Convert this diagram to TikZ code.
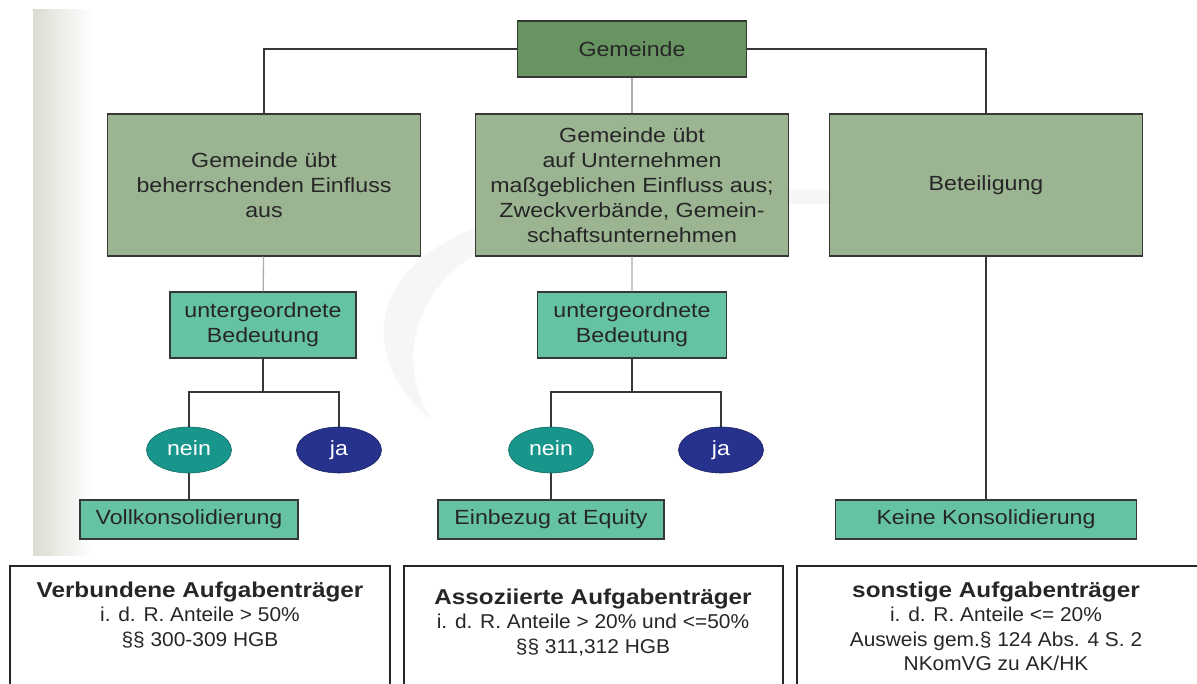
\documentclass[tikz,border=0pt]{standalone}
\usepackage{fontspec}
\setmainfont{Liberation Sans}[FakeStretch=1.13]
\newfontfamily\infofont{Liberation Sans}[FakeStretch=1.045]
\usetikzlibrary{shapes.geometric}

\definecolor{gemgreen}{RGB}{104,148,98}
\definecolor{sage}{RGB}{155,180,146}
\definecolor{mint}{RGB}{102,194,165}
\definecolor{tealdark}{RGB}{24,150,140}
\definecolor{navyja}{RGB}{38,50,140}
\definecolor{linegray}{RGB}{55,55,55}
\definecolor{textgray}{RGB}{38,38,38}
\definecolor{strip}{RGB}{218,221,210}

\begin{document}
\begin{tikzpicture}[x=1pt,y=-1pt,
  box/.style={draw=linegray,line width=1.1pt,inner sep=0pt,align=center,text=textgray,font=\fontsize{20.5}{25}\selectfont},
  top node/.style={box,fill=gemgreen,minimum width=229pt,minimum height=56pt},
  main node/.style={box,fill=sage,minimum width=313pt,minimum height=142pt},
  sub node/.style={box,fill=mint,minimum height=66pt},
  end node/.style={box,fill=mint,minimum height=39pt},
  answer/.style={ellipse,draw=tealdark!70!black,line width=.6pt,fill=tealdark,text=white,minimum width=85pt,minimum height=46pt,inner sep=0pt,text height=13pt,text depth=3pt,font=\fontsize{20.5}{25}\selectfont},
  link/.style={draw=linegray,line width=1.2pt},
  soft link/.style={draw=gray!65,line width=1.3pt},
  frame/.style={draw=black!85,line width=1.6pt},
  info/.style={align=center,inner sep=0pt,anchor=north,text=black!85,font=\infofont\fontsize{20}{24.2}\selectfont}]
\useasboundingbox (0,0) rectangle (1197,684);

% background strip and swoosh
\shade[left color=strip,right color=white] (33,10) rectangle (92,555);
\fill[black!3.5] (432,420) .. controls (355,360) and (360,250) .. (520,215)
  .. controls (700,178) and (950,182) .. (1110,224)
  .. controls (950,198) and (700,196) .. (545,226)
  .. controls (410,258) and (392,360) .. (432,420);

% Top node
\node[top node] (gem) at (632,49) {Gemeinde};

% second row
\node[main node] (herr) at (264,185) {Gemeinde übt\\beherrschenden Einfluss\\aus};
\node[main node] (mass) at (632,185) {Gemeinde übt\\auf Unternehmen\\maßgeblichen Einfluss aus;\\Zweckverbände, Gemein-\\schaftsunternehmen};
\node[main node] (beteil) at (986,185) {Beteiligung};

\path[link] (gem.west) -| (herr.north)
  (gem.east) -| (beteil.north);
\path[soft link] (gem) -- (mass);

% untergeordnete Bedeutung
\node[sub node,minimum width=186pt] (unt1) at (263,325) {untergeordnete\\Bedeutung};
\node[sub node,minimum width=189pt] (unt2) at (632,325) {untergeordnete\\Bedeutung};

\path[soft link] (herr) -- (unt1)
  (mass) -- (unt2);

% nein / ja
\coordinate (fork1) at (263,392);
\coordinate (fork2) at (632,392);
\node[answer] (nein1) at (189,450) {nein};
\node[answer,fill=navyja,draw=navyja!70!black] (ja1) at (339,450) {ja};
\node[answer] (nein2) at (551,450) {nein};
\node[answer,fill=navyja,draw=navyja!70!black] (ja2) at (721,450) {ja};

\path[link] (unt1) -- (fork1) -| (nein1)
  (fork1) -| (ja1)
  (unt2) -- (fork2) -| (nein2)
  (fork2) -| (ja2);

% results
\node[end node,minimum width=218pt] (voll) at (189,519.5) {Vollkonsolidierung};
\node[end node,minimum width=226pt] (equity) at (551,519.5) {Einbezug at Equity};
\node[end node,minimum width=301pt] (keine) at (986,519.5) {Keine Konsolidierung};

\path[link] (nein1) -- (voll)
  (nein2) -- (equity)
  (beteil) -- (keine);

% Aufgabentraeger
\draw[frame] (10,690) |- (390,566) -- (390,690);
\draw[frame] (404,690) |- (783,566) -- (783,690);
\draw[frame] (797,690) |- (1205,566);

\node[info] (verb) at (200,582) {{\rmfamily\bfseries\fontsize{21.5}{24.2}\selectfont Verbundene Aufgabenträger}\\i. d. R. Anteile > 50\%\\§§ 300-309 HGB};
\node[info] (asso) at (593,589) {{\rmfamily\bfseries\fontsize{21.5}{24.2}\selectfont Assoziierte Aufgabenträger}\\i. d. R. Anteile > 20\% und <=50\%\\§§ 311,312 HGB};
\node[info] (sonst) at (996,582) {{\rmfamily\bfseries\fontsize{21.5}{24.2}\selectfont sonstige Aufgabenträger}\\i. d. R. Anteile <= 20\%\\Ausweis gem.§ 124 Abs. 4 S. 2\\NKomVG zu AK/HK};

\end{tikzpicture}
\end{document}
